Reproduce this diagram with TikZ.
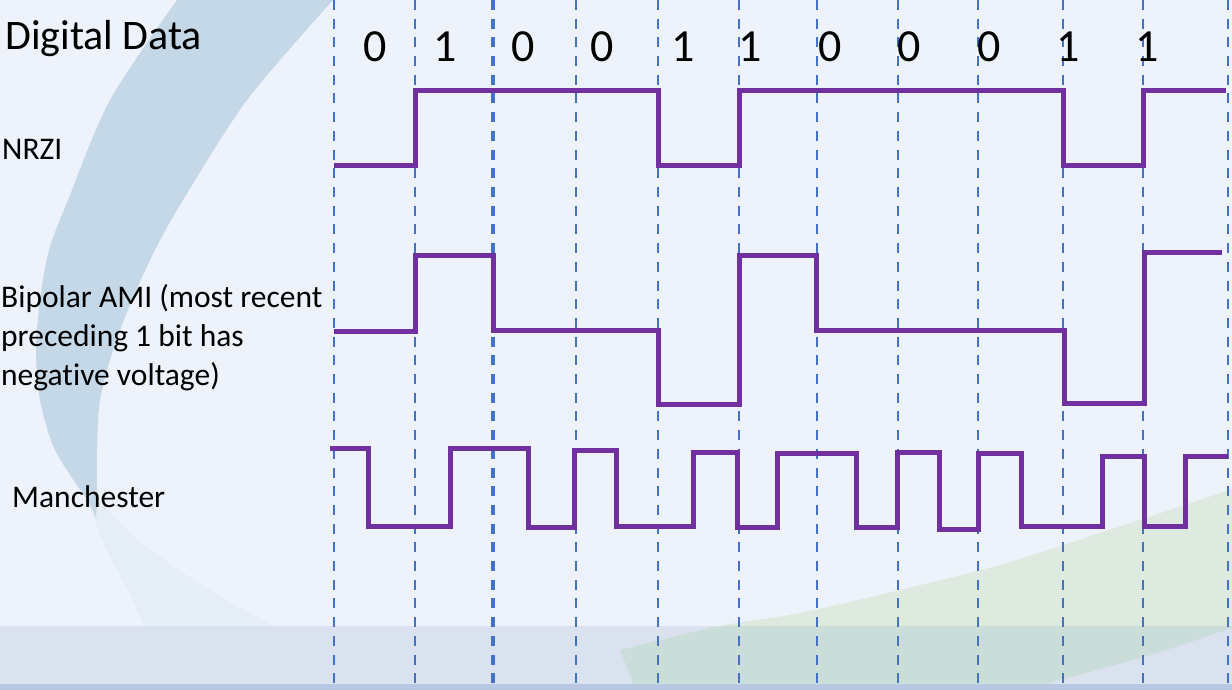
\documentclass[tikz,border=0pt]{standalone}
\usepackage{fontspec}
\setmainfont{Carlito}[Ligatures={NoCommon}]
\definecolor{bgc}{RGB}{238,242,250}
\definecolor{swooshc}{RGB}{197,216,231}
\definecolor{tailc}{RGB}{229,237,245}
\definecolor{greenc}{RGB}{222,234,224}
\definecolor{tealc}{RGB}{203,221,217}
\definecolor{bandc}{RGB}{218,226,240}
\definecolor{stripc}{RGB}{184,200,226}
\definecolor{gridc}{RGB}{68,114,196}
\definecolor{wavec}{RGB}{112,48,160}
\tikzset{
  gridline/.style={draw=gridc, line width=2.5pt, dash pattern=on 10pt off 8.7pt},
  wave/.style={draw=wavec, line width=5pt, line join=miter},
  bit/.style={anchor=base, inner sep=0pt, font=\fontsize{46}{50}\selectfont},
  lbl/.style={anchor=base west, inner sep=0pt, font=\fontsize{31.5}{39}\selectfont},
}
\begin{document}
\begin{tikzpicture}[x=1pt,y=-1pt]
\useasboundingbox (0,0) rectangle (1232,690);
% background
\fill[bgc] (0,0) rectangle (1232,690);
\fill[tailc] plot[smooth] coordinates {(87,500) (107,550) (133,600) (150,640)} -- (300,640) -- plot[smooth] coordinates {(225,600) (150,550) (97,500)} -- cycle;
\fill[swooshc] plot[smooth] coordinates {(177,0) (110,100) (68,200) (49,250) (40,300) (36,350) (40,400) (55,450) (87,500) (96,518)}
  -- plot[smooth] coordinates {(97,500) (97,450) (100,400) (113,350) (132,300) (155,250) (183,200) (247,100) (333,0)} -- cycle;
\fill[bandc] (0,626) rectangle (1232,690);
\begin{scope}
  \clip (0,0) rectangle (1232,626);
  \fill[greenc] plot[smooth] coordinates {(620,650) (720,626) (800,613) (900,590) (1000,565) (1100,533) (1200,500) (1240,486)}
    -- plot[smooth] coordinates {(1240,625) (1150,655) (1030,688)} -- (1000,700) -- (640,700) -- cycle;
\end{scope}
\begin{scope}
  \clip (0,626) rectangle (1232,690);
  \fill[tealc] plot[smooth] coordinates {(620,650) (720,626) (800,613) (900,590) (1000,565) (1100,533) (1200,500) (1240,486)}
    -- plot[smooth] coordinates {(1240,625) (1150,655) (1030,688)} -- (1000,700) -- (640,700) -- cycle;
\end{scope}
\fill[stripc] (0,684) rectangle (1232,690);
% dashed bit boundaries
\foreach \x in {334,415,576,658,739,817,898,978,1063,1143,1228}
  \draw[gridline] (\x,0) -- (\x,690);
\draw[gridline, line width=3.2pt] (493,0) -- (493,690);
% labels
\node[anchor=base west, inner sep=0pt, font=\fontsize{42}{46}\selectfont] (dd) at (5,50) {Digital Data};
\node[lbl] (nrzi) at (2,160) {NRZI};
\node[lbl, align=left] (ami) at (1,385) {Bipolar AMI (most recent\\preceding 1 bit has\\negative voltage)};
\node[lbl] (man) at (12,507) {Manchester};
% bits
\foreach \x/\b [count=\i] in {375/0,445/1,523/0,602/0,683/1,750/1,830/0,909/0,989/0,1068/1,1147/1}
  \node[bit] (b\i) at (\x,62) {\b};
% waveforms
\draw[wave] (334,166) -- (415,166) -- (415,91) -- (658,91) -- (658,166) -- (739,166) -- (739,91) -- (1063,91) -- (1063,166) -- (1143,166) -- (1143,91) -- (1226,91);
\draw[wave] (334,331) -- (415,331) -- (415,255) -- (493,255) -- (493,330) -- (658,330) -- (658,404) -- (739,404) -- (739,255) -- (816,255) -- (816,330) -- (1064,330) -- (1064,403) -- (1144,403) -- (1144,252) -- (1222,252);
\draw[wave] (330,448) -- (368,448) -- (368,526) -- (450,526) -- (450,448) -- (528,448) -- (528,527) -- (574,527) -- (574,450) -- (616,450) -- (616,526) -- (693,526) -- (693,452) -- (737,452) -- (737,527) -- (777,527) -- (777,453) -- (856,453) -- (856,527) -- (897,527) -- (897,452) -- (939,452) -- (939,529) -- (978,529) -- (978,453) -- (1021,453) -- (1021,526) -- (1102,526) -- (1102,456) -- (1144,456) -- (1144,526) -- (1185,526) -- (1185,456) -- (1228,456);
\end{tikzpicture}
\end{document}
